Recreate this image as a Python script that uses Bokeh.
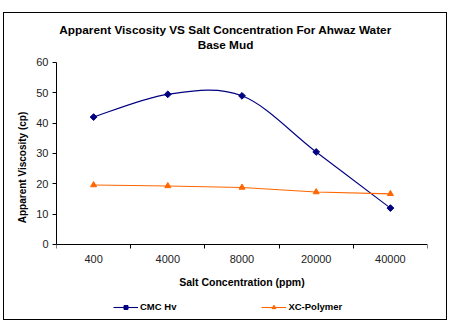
import math
from bokeh.plotting import figure
from bokeh.models import FixedTicker, Range1d, Legend, LegendItem, Label
from bokeh.embed import file_html
from bokeh.resources import INLINE

title_lines = ["Apparent Viscosity VS Salt Concentration For Ahwaz Water", "Base Mud"]
categories = ["400", "4000", "8000", "20000", "40000"]
cmc_hv = [42.0, 49.5, 49.0, 30.5, 12.0]
xc_polymer = [19.6, 19.3, 18.8, 17.3, 16.7]
y_ticks = [0, 10, 20, 30, 40, 50, 60]

NAVY = "#000080"
ORANGE = "#FF6600"
FONT = "Liberation Sans"

xs = list(range(len(categories)))

# The frame is stretched above and below the 0..60 axis so that the title and
# legend (which live inside the frame) are not clipped.
p = figure(width=442, height=306, output_backend="svg", toolbar_location=None,
           x_range=Range1d(-0.5, len(categories) - 0.5), y_range=Range1d(-24.4, 75.16),
           min_border_left=52, min_border_right=19, min_border_top=3, min_border_bottom=1,
           outline_line_color=None, background_fill_color="white", border_fill_color="white")
p.margin = (13, 0, 0, 4)
p.styles = {"outline": "1.5px solid black"}

p.xgrid.visible = False
p.ygrid.visible = False

# x axis, pinned at y = 0
p.xaxis.fixed_location = 0
p.xaxis.ticker = FixedTicker(ticks=xs, minor_ticks=[i - 0.5 for i in range(len(categories) + 1)])
p.xaxis.major_label_overrides = {i: c for i, c in enumerate(categories)}
p.xaxis.major_tick_out = 0
p.xaxis.major_tick_in = 0
p.xaxis.minor_tick_out = 4
p.xaxis.minor_tick_in = 0
p.xaxis.minor_tick_line_color = "black"
p.xaxis.axis_label = "Salt Concentration (ppm)"
p.xaxis.major_label_standoff = 7

# y axis, bounded to 0..60
p.yaxis.ticker = FixedTicker(ticks=y_ticks)
p.yaxis.bounds = (0, 60)
p.yaxis.major_tick_out = 4
p.yaxis.major_tick_in = 0
p.yaxis.minor_tick_out = 0
p.yaxis.minor_tick_in = 0
p.yaxis.axis_label = "Apparent Viscosity (cp)"
p.yaxis.major_label_standoff = 4

for ax in (p.xaxis, p.yaxis):
    ax.axis_line_color = "black"
    ax.major_tick_line_color = "black"
    ax.major_label_text_font = FONT
    ax.major_label_text_font_size = "11px"
    ax.major_label_text_color = "#222222"
    ax.axis_label_text_font = FONT
    ax.axis_label_text_font_style = "bold"
    ax.axis_label_text_color = "black"

p.xaxis.axis_label_text_font_size = "10.5px"
p.yaxis.axis_label_text_font_size = "10px"
p.xaxis.axis_label_standoff = 9
p.yaxis.axis_label_standoff = 5

# title (two centred lines)
for txt, sy in zip(title_lines, [289, 274]):
    p.add_layout(Label(x=169, y=sy, x_units="screen", y_units="screen", text=txt,
                       text_align="center", text_baseline="middle", text_font=FONT,
                       text_font_size="11.8px", text_font_style="bold", text_color="black"))

# smoothed CMC curve: Bezier segments with Catmull-Rom control points from the data
n = len(cmc_hv)
px = xs
py = cmc_hv
x0s, y0s, x1s, y1s, cx0s, cy0s, cx1s, cy1s = [], [], [], [], [], [], [], []
for i in range(n - 1):
    xa, ya = px[i], py[i]
    xb, yb = px[i + 1], py[i + 1]
    xp, yp = (px[i - 1], py[i - 1]) if i > 0 else (xa, ya)
    xn, yn = (px[i + 2], py[i + 2]) if i + 2 < n else (xb, yb)
    x0s.append(xa); y0s.append(ya); x1s.append(xb); y1s.append(yb)
    cx0s.append(xa + (xb - xp) / 6); cy0s.append(ya + (yb - yp) / 6)
    cx1s.append(xb - (xn - xa) / 6); cy1s.append(yb - (yn - ya) / 6)
cmc_curve = p.bezier(x0=x0s, y0=y0s, x1=x1s, y1=y1s, cx0=cx0s, cy0=cy0s, cx1=cx1s, cy1=cy1s,
                     line_color=NAVY, line_width=1.1)
cmc_pts = p.scatter(x=xs, y=cmc_hv, marker="square", angle=math.pi / 4, size=4.8,
                    fill_color=NAVY, line_color=NAVY)

xc_line = p.line(x=xs, y=xc_polymer, line_color=ORANGE, line_width=1.1)
xc_pts = p.scatter(x=xs, y=xc_polymer, marker="triangle", size=6, fill_color=ORANGE, line_color=ORANGE)

legend = Legend(items=[LegendItem(label="CMC Hv", renderers=[cmc_curve, cmc_pts]),
                       LegendItem(label="XC-Polymer", renderers=[xc_line, xc_pts])],
                orientation="horizontal", location=(57, 6), padding=0, margin=0,
                spacing=85, glyph_width=25, glyph_height=10, label_height=10,
                label_standoff=2, border_line_color=None, background_fill_alpha=0,
                label_text_font=FONT, label_text_font_size="9.5px",
                label_text_font_style="bold", label_text_color="black")
p.add_layout(legend, "center")

open("out.html", "w").write(file_html(p, INLINE))
